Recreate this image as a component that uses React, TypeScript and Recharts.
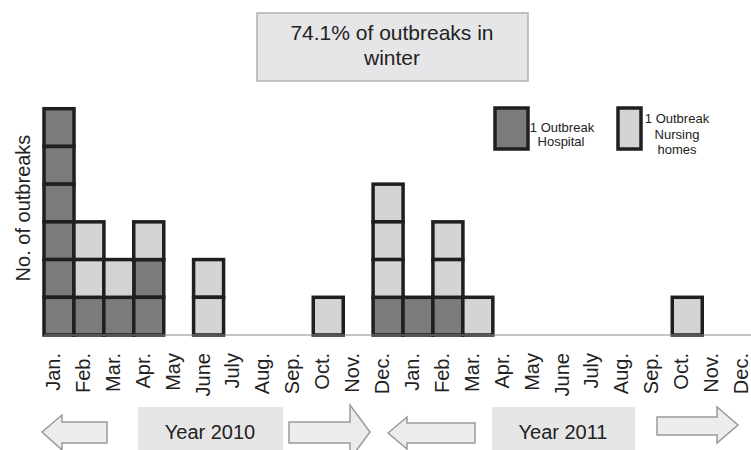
import React from 'react';
import { BarChart, Bar, XAxis, YAxis } from 'recharts';

// one entry per month, Jan 2010 .. Dec 2011
const months = [
  'Jan.', 'Feb.', 'Mar.', 'Apr.', 'May', 'June', 'July', 'Aug.', 'Sep.', 'Oct.', 'Nov.', 'Dec.',
  'Jan.', 'Feb.', 'Mar.', 'Apr.', 'May', 'June', 'July', 'Aug.', 'Sep.', 'Oct.', 'Nov.', 'Dec.',
];
const hospital = [6, 1, 1, 2, 0, 0, 0, 0, 0, 0, 0, 1, 1, 1, 0, 0, 0, 0, 0, 0, 0, 0, 0, 0];
const nursing = [0, 2, 1, 1, 0, 2, 0, 0, 0, 1, 0, 3, 0, 2, 1, 0, 0, 0, 0, 0, 0, 1, 0, 0];

const titleLines = ['74.1% of outbreaks in', 'winter'];
const years = ['Year 2010', 'Year 2011'];

const DARK = '#7b7b7d';
const LIGHT = '#d4d4d6';
const EDGE = '#1f1f1f';
const FONT = '"Liberation Sans", Arial, Helvetica, sans-serif';

const data = months.map((m, i) => ({
  id: `${m}-${i}`,
  month: m,
  hospital: hospital[i],
  nursing: nursing[i],
}));

// draws one square per outbreak inside the stacked segment
function Boxes(props: any) {
  const { x, y, width, height, fill, count } = props;
  if (!count) return null;
  const h = height / count;
  return (
    <g>
      {Array.from({ length: count }, (_, i) => (
        <rect key={i} x={x} y={y + i * h} width={width} height={h} fill={fill} stroke={EDGE} strokeWidth={3.5} />
      ))}
    </g>
  );
}

function MonthTick(props: any) {
  const { x, y, index } = props;
  return (
    <text
      transform={`translate(${x + 1},${y + 10}) rotate(-90)`}
      textAnchor="end"
      fontSize={20}
      fontFamily={FONT}
      fill="#222"
    >
      {months[index]}
    </text>
  );
}

const arrowStyle = { fill: '#ececec', stroke: '#9a9a9a', strokeWidth: 1.5 };

export default function App() {
  return (
    <div style={{ position: 'relative', width: 751, height: 450, overflow: 'hidden', background: '#fff' }}>
      <style>{'body{margin:0}'}</style>
      <BarChart
        width={762}
        height={450}
        data={data}
        margin={{ top: 71, right: 0, bottom: 15, left: 44 }}
        barCategoryGap={0}
        barGap={0}
      >
        <XAxis
          dataKey="id"
          interval={0}
          tickLine={false}
          axisLine={{ stroke: '#8a8a8a', strokeWidth: 1 }}
          height={100}
          tick={<MonthTick />}
        />
        <YAxis
          width={0}
          domain={[0, 7]}
          tick={false}
          tickLine={false}
          axisLine={{ stroke: '#8a8a8a', strokeWidth: 1 }}
        />
        <Bar
          dataKey="hospital"
          stackId="a"
          fill={DARK}
          isAnimationActive={false}
          shape={(p: any) => <Boxes {...p} count={p.payload.hospital} />}
        />
        <Bar
          dataKey="nursing"
          stackId="a"
          fill={LIGHT}
          isAnimationActive={false}
          shape={(p: any) => <Boxes {...p} count={p.payload.nursing} />}
        />
      </BarChart>

      <svg width={751} height={450} style={{ position: 'absolute', left: 0, top: 0, pointerEvents: 'none' }}>
        <text transform="translate(30,208) rotate(-90)" textAnchor="middle" fontSize={20} fontFamily={FONT} fill="#222">
          No. of outbreaks
        </text>

        <rect x={257} y={13} width={271} height={68} fill="#e6e6e8" stroke="#b0b0b0" strokeWidth={1.5} />
        <text x={392} y={40} textAnchor="middle" fontSize={21} fontFamily={FONT} fill="#222">{titleLines[0]}</text>
        <text x={392} y={65} textAnchor="middle" fontSize={21} fontFamily={FONT} fill="#222">{titleLines[1]}</text>

        <rect x={495} y={108} width={33} height={41} fill={DARK} stroke={EDGE} strokeWidth={3.5} />
        <text x={562} y={132} textAnchor="middle" fontSize={13} fontFamily={FONT} fill="#222">1 Outbreak</text>
        <text x={561} y={146} textAnchor="middle" fontSize={13} fontFamily={FONT} fill="#222">Hospital</text>
        <rect x={618} y={108} width={23} height={41} fill={LIGHT} stroke={EDGE} strokeWidth={3.5} />
        <text x={677} y={123} textAnchor="middle" fontSize={13} fontFamily={FONT} fill="#222">1 Outbreak</text>
        <text x={677} y={139} textAnchor="middle" fontSize={13} fontFamily={FONT} fill="#222">Nursing</text>
        <text x={677} y={154} textAnchor="middle" fontSize={13} fontFamily={FONT} fill="#222">homes</text>

        <polygon points="42,432 62,415 62,422 107,422 107,443 62,443 62,450" {...arrowStyle} />
        <rect x={138} y={407} width={145} height={50} fill="#e6e6e6" />
        <text x={210} y={439} textAnchor="middle" fontSize={20} fontFamily={FONT} fill="#222">{years[0]}</text>
        <polygon points="289,422 350,422 350,405 370,432 350,459 350,443 289,443" {...arrowStyle} />

        <polygon points="388,433 407,417 407,423 475,423 475,443 407,443 407,449" {...arrowStyle} />
        <rect x={492} y={407} width={143} height={50} fill="#e6e6e6" />
        <text x={563} y={439} textAnchor="middle" fontSize={20} fontFamily={FONT} fill="#222">{years[1]}</text>
        <polygon points="657,417 717,417 717,407 738,425 717,443 717,435 657,435" {...arrowStyle} />
      </svg>
    </div>
  );
}
